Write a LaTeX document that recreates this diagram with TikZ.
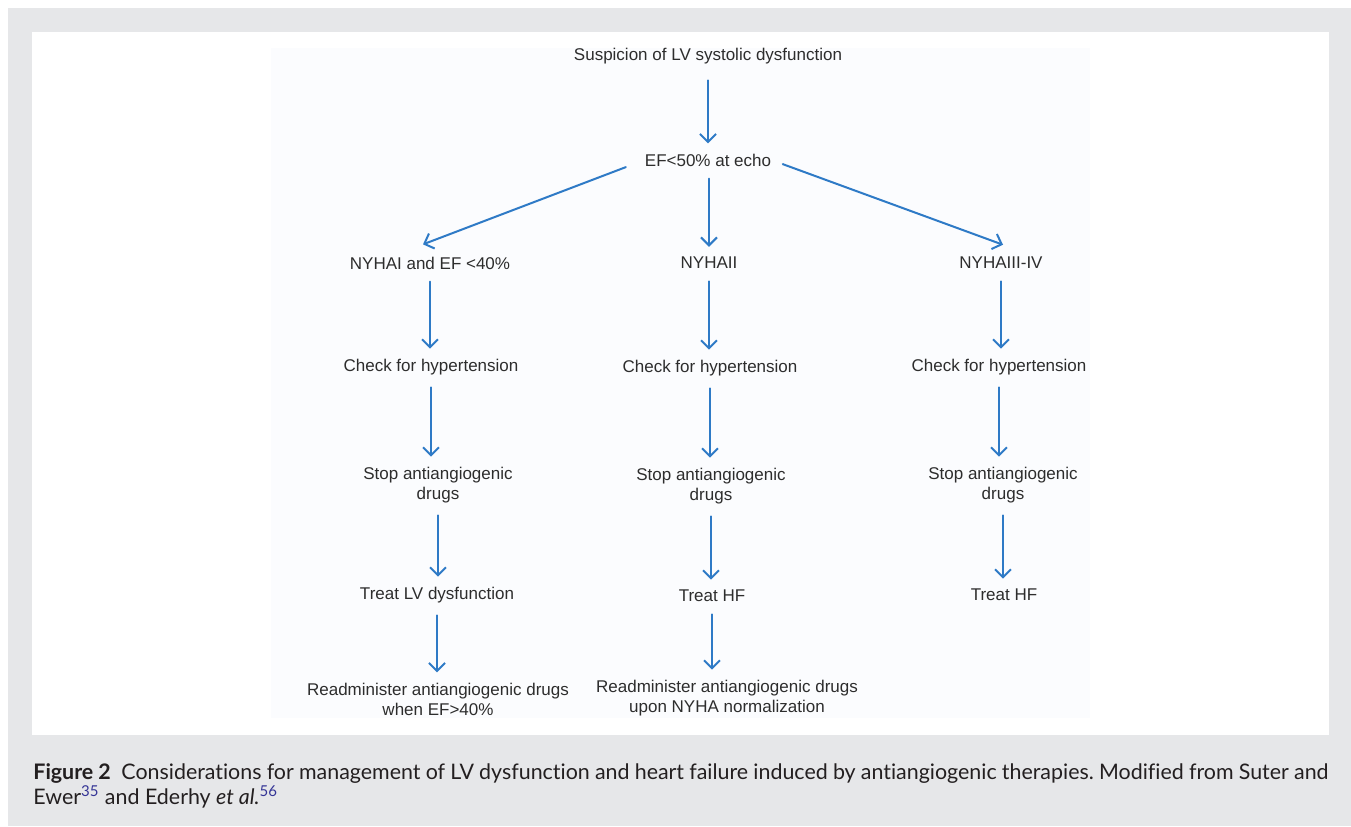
\documentclass[tikz,border=0pt]{standalone}
\usepackage{fontspec}
\setmainfont{Liberation Sans}
\newfontfamily\capfont[Ligatures=NoCommon]{Lato}
\usetikzlibrary{arrows.meta,positioning}
\definecolor{fg}{RGB}{45,45,45}
\definecolor{flowc}{RGB}{46,122,198}
\definecolor{frame}{RGB}{230,231,233}
\definecolor{panel}{RGB}{251,252,254}
\definecolor{capc}{RGB}{35,31,32}
\definecolor{refc}{RGB}{52,52,150}
\tikzset{
  every picture/.style={line cap=round, line join=round,
    >={Straight Barb[length=4pt,width=8pt]}},
  % Kaesten ohne Rahmen, nur Text
  box/.style={fg, font=\fontsize{8.5}{10}\selectfont, inner sep=0pt, align=center},
  % Pfeile
  flow/.style={flowc, line width=1pt, ->, shorten <=6pt, shorten >=5pt},
  captext/.style={capc, font=\capfont\fontsize{10.7}{12}\selectfont\frenchspacing, inner sep=0pt, anchor=base west},
}
\begin{document}
\begin{tikzpicture}[x=0.5pt, y=-0.5pt]
  \useasboundingbox (0,0) rectangle (1351,826);
  % Hintergrund: Rahmen, weisse Tafel, Diagrammflaeche
  \fill[frame] (8,8) rectangle (1351,826);
  \fill[white] (32,32) rectangle (1329,735);
  \fill[panel] (271,48) rectangle (1090,718);
  % Knoten
  \node[box] (susp) at (708,56) {Suspicion of LV systolic dysfunction};
  \node[box] (echo) at (708,160) {EF<50\% at echo};
  \node[box] (nyha1) at (430,263) {NYHAI and EF <40\%};
  \node[box] (nyha2) at (709,263) {NYHAII};
  \node[box] (nyha3) at (1001,263) {NYHAIII-IV};
  \node[box] (chk1) at (431,367) {Check for hypertension};
  \node[box] (chk2) at (710,368) {Check for hypertension};
  \node[box] (chk3) at (999,367) {Check for hypertension};
  \node[box] (stop1) at (438,485) {Stop antiangiogenic\\drugs};
  \node[box] (stop2) at (711,486) {Stop antiangiogenic\\drugs};
  \node[box] (stop3) at (1003,485) {Stop antiangiogenic\\drugs};
  \node[box] (treat1) at (437,595) {Treat LV dysfunction};
  \node[box] (treat2) at (712,596) {Treat HF};
  \node[box] (treat3) at (1004,595) {Treat HF};
  \node[box] (re1) at (438,699) {Readminister antiangiogenic drugs\\when EF>40\%};
  \node[box] (re2) at (727,698) {Readminister antiangiogenic drugs\\upon NYHA normalization};
  % Pfeile
  \draw[flow, shorten <=8pt] (susp) -- (echo);
  \draw[flow, shorten <=10pt, shorten >=0pt] (echo.west) -- ([xshift=-3.5pt,yshift=6pt]nyha1.north);
  \draw[flow] (echo.south -| nyha2) -- (nyha2.north);
  \draw[flow, shorten >=0pt] (echo.east) -- ([xshift=1pt,yshift=6pt]nyha3.north);
  \foreach \a/\b in {nyha1/chk1, chk1/stop1, stop1/treat1, treat1/re1,
                     nyha2/chk2, chk2/stop2, stop2/treat2, treat2/re2,
                     nyha3/chk3, chk3/stop3, stop3/treat3}
    \draw[flow] (\a.south) -- (\a.south |- \b.north);
  % Bildunterschrift
  \node[captext] (cap1) at (33,779) {\makebox[647.5pt][s]{\textbf{Figure 2}\enspace Considerations for management of LV dysfunction and heart failure induced by antiangiogenic therapies. Modified from Suter and}};
  \node[captext] (cap2) at (33,804) {Ewer\textsuperscript{\color{refc}35} and Ederhy \textit{et al.}\textsuperscript{\color{refc}56}};
\end{tikzpicture}
\end{document}
